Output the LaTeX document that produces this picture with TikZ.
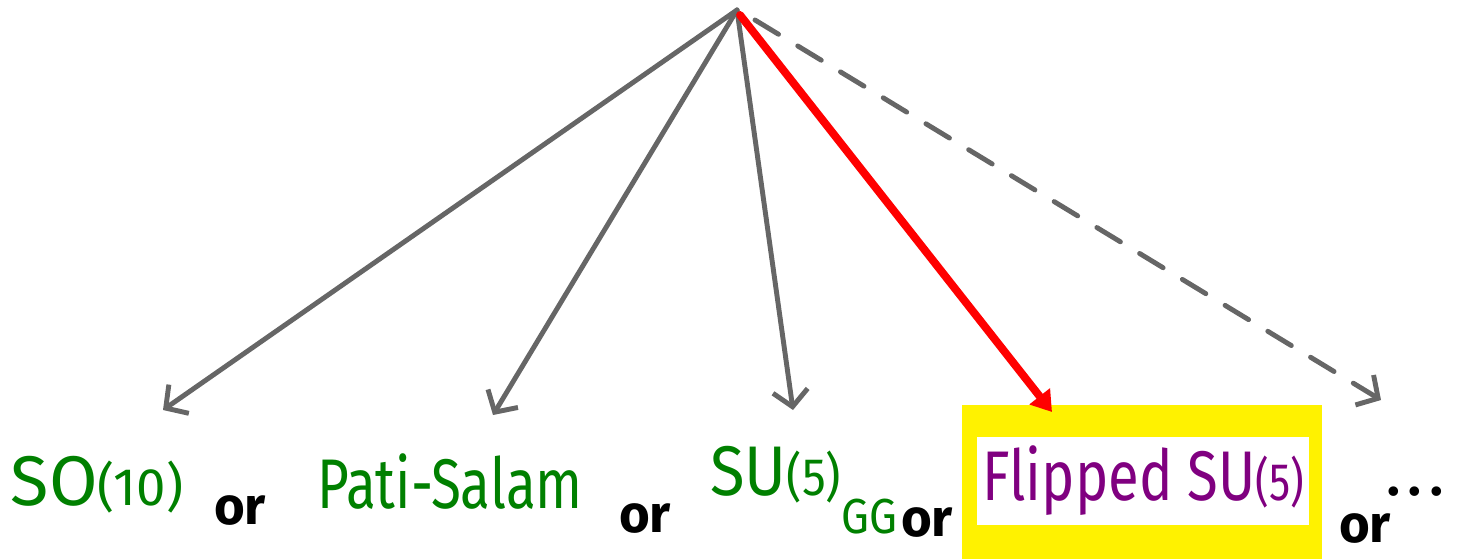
\documentclass[tikz,border=0pt]{standalone}
\usepackage{fontspec}
\setmainfont{Fira Sans}
\usepackage{tikz}
\usetikzlibrary{arrows.meta, positioning, calc, backgrounds}
\definecolor{gutgreen}{HTML}{008000}
\definecolor{flippurple}{HTML}{800080}
\definecolor{arrowgray}{HTML}{666666}
\newcommand{\hfs}[1]{\fontsize{#1}{#1}\selectfont}

\begin{document}
\begin{tikzpicture}[
  x=0.02cm, y=-0.02cm,
  gut/.style={inner sep=0pt, text=gutgreen, font=\hfs{40}},
  flip/.style={inner sep=0pt, text=flippurple, font=\hfs{40}, fill=white, minimum width=6.66cm, minimum height=1.76cm},
  ortext/.style={inner sep=0pt, font=\hfs{30}\bfseries},
  branch/.style={-{Straight Barb[length=3.2mm, width=7mm]}, line width=2.8pt, arrowgray, line cap=round},
  chosen/.style={-{Triangle[length=4mm, width=5mm]}, line width=4.5pt, red, line cap=round},
  more/.style={branch, dash pattern=on 0.55cm off 0.45cm}
]
\useasboundingbox (0,0) rectangle (1462,559);
% the unified groups
\node[gut] (so10) at (97,485) {SO{\hfs{30}(10)}};
\node[ortext] (or1) at (240,510) {or};
\node[gut] (pati) at (450,481) {\scalebox{0.78}[1]{Pati-Salam}};
\node[ortext] (or2) at (645,518) {or};
\node[gut, anchor=west] (su5) at (710,490) {\scalebox{0.9}[1]{SU{\hfs{30}(5)}\raisebox{-0.55em}{\hfs{28}GG}}};
\node[ortext] (or3) at (927,522) {or};
\node[flip] (flipped) at (1143,481) {\scalebox{0.8}[1]{Flipped SU{\hfs{30}(5)}}};
\node[ortext] (or4) at (1365,528) {or};
\node[ortext, anchor=south] (dots) at (1415,497) {.\,.\,.};
\begin{scope}[on background layer]
  \fill[yellow] (962,405) rectangle (1322,559);
\end{scope}
% where the arrows start and stop
\coordinate (top) at (737,10);
\coordinate (tipso) at (163,410);
\coordinate (tippati) at (493,415);
\coordinate (tipsu) at (793,410);
\coordinate (tipflip) at (1052,412);
\coordinate (tipmore) at (1381,400);
\draw[branch] (top) -- (tipso);
\draw[branch] (top) -- (tippati);
\draw[branch] (top) -- (tipsu);
\draw[more] ($(top)+(18,10)$) -- (tipmore);
\draw[chosen] ($(top)+(3,5)$) -- (tipflip);
\end{tikzpicture}
\end{document}
